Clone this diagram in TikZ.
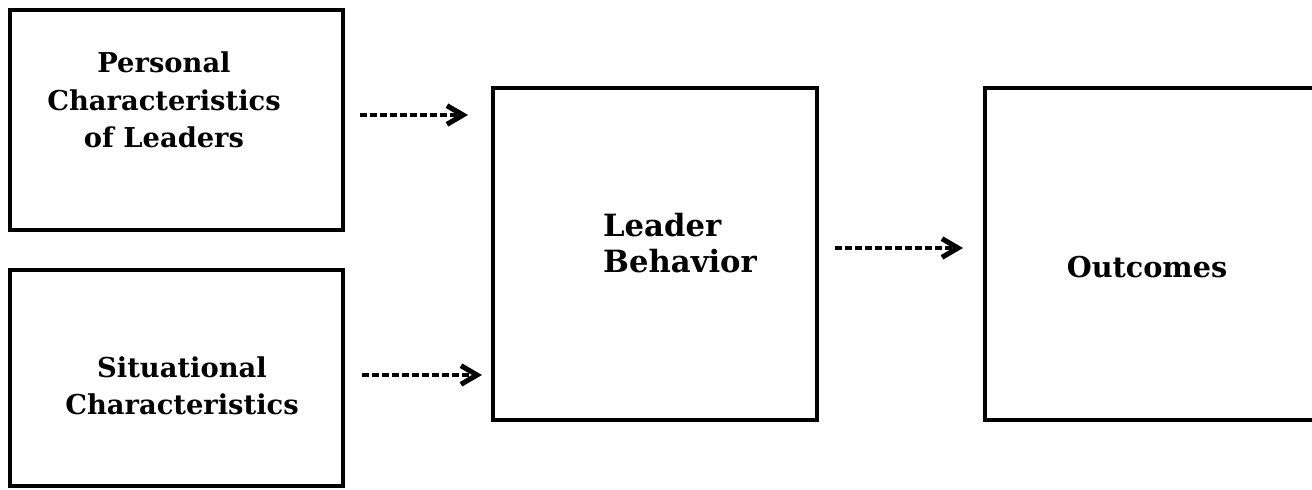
\documentclass[tikz,border=0pt]{standalone}
\usepackage{fontspec}
\setmainfont{DejaVu Serif}
\usetikzlibrary{arrows.meta}
\begin{document}
\begin{tikzpicture}[x=0.75pt,y=-0.75pt,
  box/.style={draw, line width=2.4pt, inner sep=0pt, outer sep=0pt},
  lbl/.style={font=\bfseries\fontsize{20.5}{28}\selectfont, align=center, inner sep=0pt},
  arr/.style={line width=3pt, dash pattern=on 5pt off 2.5pt,
    -{Straight Barb[length=12pt,width=14pt,line width=3.8pt]}}]
\clip (0,0) rectangle (1312,489);
\fill[white] (0,0) rectangle (1312,489);
\node[box, minimum width=249.75pt, minimum height=165pt] (box1) at (176.5,120) {};
\node[box, minimum width=249.75pt, minimum height=162pt] (box2) at (176.5,378) {};
\node[box, minimum width=243pt, minimum height=249pt] (box3) at (655,254) {};
\node[box, minimum width=250.5pt, minimum height=249pt] (box4) at (1152,254) {};
\node[lbl] (t1) at (164,100) {Personal\\Characteristics\\of Leaders};
\node[lbl] (t2) at (182,386) {Situational\\Characteristics};
\node[lbl, align=left, font=\bfseries\fontsize{23}{27.5}\selectfont] (t3) at (680,243) {Leader\\Behavior};
\node[lbl, font=\bfseries\fontsize{21.5}{28}\selectfont] (t4) at (1147,267) {Outcomes};
\draw[arr, shorten <=12.75pt, shorten >=18.75pt] ([yshift=3.75pt]box1.east) -- ([yshift=3.75pt]box1.east -| box3.west);
\draw[arr, shorten <=14.25pt, shorten >=8.25pt] ([yshift=2.25pt]box2.east) -- ([yshift=2.25pt]box2.east -| box3.west);
\draw[arr, shorten <=13.5pt, shorten >=16.5pt] ([yshift=4.5pt]box3.east) -- ([yshift=4.5pt]box3.east -| box4.west);
\end{tikzpicture}
\end{document}
